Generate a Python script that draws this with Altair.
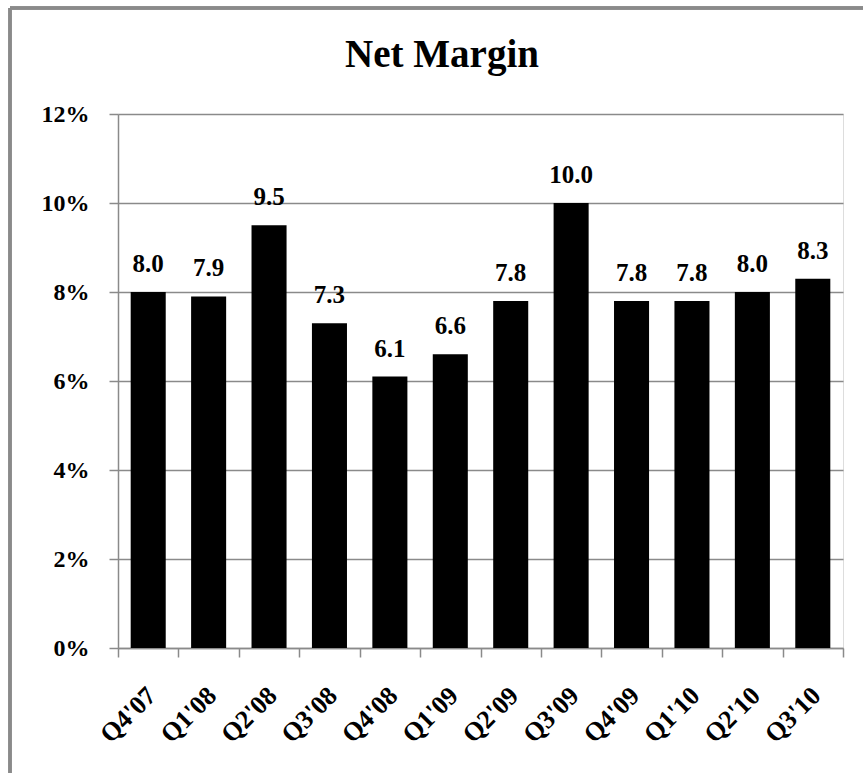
import altair as alt
import pandas as pd

# Quarterly net margin, in percent
quarters = ["Q4'07", "Q1'08", "Q2'08", "Q3'08", "Q4'08", "Q1'09",
            "Q2'09", "Q3'09", "Q4'09", "Q1'10", "Q2'10", "Q3'10"]
net_margin = [8.0, 7.9, 9.5, 7.3, 6.1, 6.6, 7.8, 10.0, 7.8, 7.8, 8.0, 8.3]
y_ticks = [0, 2, 4, 6, 8, 10, 12]
chart_title = ["Net Margin"]

df = pd.DataFrame({"quarter": quarters, "margin": net_margin})

FONT = "Liberation Serif, Times New Roman, serif"
GREY = "#8a8a8a"
W, H = 725, 534

x_enc = alt.X(
    "quarter:N",
    sort=quarters,
    scale=alt.Scale(paddingInner=0, paddingOuter=0),
    axis=alt.Axis(
        title=None,
        labelAngle=-45,
        labelFont=FONT,
        labelFontSize=26,
        labelFontWeight="bold",
        labelColor="black",
        labelPadding=25,
        labelOffset=-6,
        tickBand="extent",
        tickSize=9,
        tickColor=GREY,
        tickWidth=1.5,
        domainColor=GREY,
        domainWidth=1.5,
        grid=False,
    ),
)

y_enc = alt.Y(
    "margin:Q",
    scale=alt.Scale(domain=[0, 12], nice=False),
    axis=alt.Axis(
        title=None,
        values=y_ticks,
        labelExpr="datum.value + '%'",
        labelFont=FONT,
        labelFontSize=24,
        labelFontWeight="bold",
        labelColor="black",
        labelPadding=20,
        tickSize=9,
        tickColor=GREY,
        tickWidth=1.5,
        domainColor=GREY,
        domainWidth=1.5,
        gridColor=GREY,
        gridWidth=1.5,
    ),
)

bars = alt.Chart(df).mark_bar(
    color="black", width=alt.RelativeBandSize(0.58)
).encode(x=x_enc, y=y_enc)

labels = alt.Chart(df).mark_text(
    font=FONT, fontSize=25, fontWeight="bold", color="black",
    baseline="alphabetic", dy=-20,
).encode(
    x=alt.X("quarter:N", sort=quarters),
    y="margin:Q",
    text=alt.Text("margin:Q", format=".1f"),
)

# Chart heading, centred over the framed area
title = alt.Chart(pd.DataFrame({"t": chart_title})).mark_text(
    font=FONT, fontSize=39, fontWeight="bold", color="black",
    align="center", baseline="alphabetic",
).encode(x=alt.value(324), y=alt.value(-47), text="t:N")

# Outer frame around the chart (left and top edges)
frame_left = alt.Chart(df).mark_rule(color=GREY, strokeWidth=2.5).encode(
    x=alt.value(-108), y=alt.value(-106), y2=alt.value(H + 200)
)
frame_top = alt.Chart(df).mark_rule(color=GREY, strokeWidth=2.5).encode(
    x=alt.value(-108), x2=alt.value(W + 200), y=alt.value(-106)
)

chart = (
    alt.layer(bars, labels, title, frame_left, frame_top)
    .properties(
        width=W,
        height=H,
        autosize=alt.AutoSizeParams(type="none"),
        padding={"left": 118, "top": 114, "right": 20, "bottom": 125},
    )
    .configure_view(stroke=None)
    .configure(background="white")
)

chart.save("out.html", embed_options={"renderer": "svg", "actions": False})
